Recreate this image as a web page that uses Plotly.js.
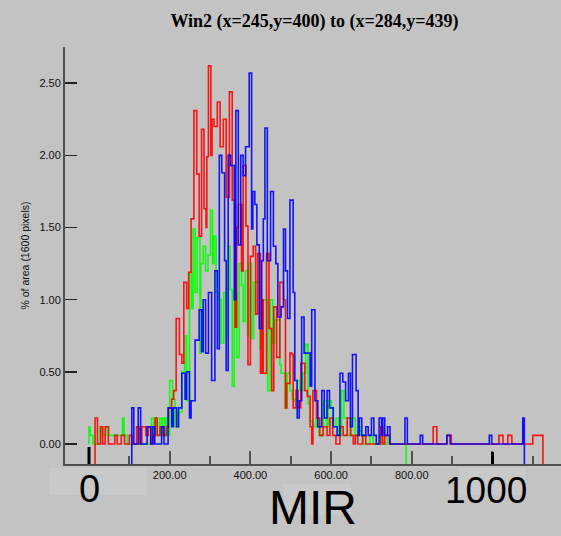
<!DOCTYPE html>
<html>
<head>
<meta charset="utf-8">
<script src="https://cdn.plot.ly/plotly-3.0.1.min.js"></script>
<style>html,body{margin:0;padding:0;background:#c3c3c3;}#chart{width:561px;height:536px;}</style>
</head>
<body>
<div id="chart"></div>
<script>
// ---- data (MIR value vs % of area, step histograms) ----
var BASE = -0.14; // histogram end lines run down to the axis
var greenX = [0,0,3,10,27,34,42,49,83,87,95,155,161,163,169,175,180,182,187,191,197,200,207,213,220,230,237,242,249,254,258,263,268,275,277,283,289,295,301,306,310,315,322,328,334,340,345,350,355,360,366,372,378,382,387,393,395,403,408,415,424,430,437,443,449,455,460,467,473,476,486,491,498,504,510,515,523,530,537,543,548,556,563,570,581,589,593,600,606,612,618,626,632,640,650,660,667,673,680,696,704,720,726,740,746,786];
var greenY = [0,0.12,0.06,0,0.12,0.06,0.12,0.06,0.18,0.06,0,0.18,0.06,0.18,0.06,0.18,0.06,0.18,0.06,0.18,0.06,0.44,0.31,0.12,0.22,0.5,0.75,0.3,1.19,0.94,1.49,1.05,1.43,0.63,1.25,1.37,1.2,1.31,1.62,1.25,1.44,1.05,1.0,0.7,1.05,0.75,1.37,1.07,0.4,1.05,0.6,1.25,1.1,0.85,1.2,0.75,1.25,0.73,1.12,1.12,0.66,1.0,1.0,0.37,1.0,0.7,0.86,0.86,0.55,0.49,0.25,0.49,0.37,0.31,0.3,0.44,0.37,0.49,0.69,0.28,0.16,0.12,0.18,0.06,0.3,0.12,0.3,0.25,0.12,0.18,0.06,0.37,0.18,0.06,0.18,0.06,0.12,0.06,0,0.06,0,0.06,0,0.06,0,BASE];

var redX = [15,15,21,29,34,40,48,64,70,80,88,100,106,118,126,131,141,147,153,160,164,169,176,184,192,197,205,210,216,224,230,235,242,247,253,260,267,273,279,285,290,292,296,302,305,310,318,325,333,340,348,355,362,366,370,378,382,389,394,400,407,413,418,425,428,432,440,446,453,458,465,473,482,487,490,498,503,506,513,518,525,535,541,548,552,555,564,572,580,590,597,604,612,622,630,640,648,655,660,666,678,686,723,728,733,745,853,862,887,898,1016,1026,1038,1048,1100,1125];
var redY = [BASE,0.18,0,0.12,0,0.12,0,0.06,0,0.06,0,0.06,0,0.12,0,0.12,0.06,0.12,0,0.06,0.18,0.06,0.12,0.06,0.12,0.25,0.31,0.37,0.87,0.62,0.56,1.12,0.94,1.19,1.56,2.31,1.87,1.44,2.18,1.63,1.5,1.99,2.62,2.0,2.25,2.2,2.37,2.06,2.25,1.71,2.44,1.69,0.81,1.5,1.66,1.2,1.93,1.51,0.55,1.3,1.37,0.9,1.32,0.49,1.0,0.49,1.32,0.8,0.37,0.95,0.6,1.12,1.0,0.25,0.42,0.63,0.62,0.25,0.37,0.25,0.56,0.37,0.33,0.12,0,0.37,0.18,0.06,0.12,0.06,0.18,0.06,0,0.12,0.06,0.18,0.06,0,0.06,0,0.06,0,0.12,0,0.06,0,0.12,0,0.06,0,0.06,0,0.06,0,0.06,BASE];

var blueX = [106,106,111,122,128,144,153,158,163,180,186,196,205,209,217,222,230,238,242,249,253,263,273,279,283,289,296,304,312,318,323,329,336,340,345,351,360,364,370,376,382,388,397,403,406,411,416,422,428,432,436,442,450,457,463,468,476,482,487,492,498,506,510,516,521,527,533,541,548,552,560,567,577,583,590,596,605,615,622,629,636,643,648,653,662,667,670,676,686,692,700,706,712,719,725,728,733,740,746,783,789,821,827,887,895,992,998,1075,1079];
var blueY = [BASE,0.25,0,0.25,0,0.12,0,0.12,0,0.12,0,0.25,0.12,0.25,0.12,0.25,0.49,0.31,0.5,0.18,0.3,0.72,0.93,0.64,1.0,0.63,1.05,0.44,1.2,0.66,2.0,1.88,1.27,0.51,2.0,1.93,1.0,2.31,1.38,2.0,1.86,2.06,2.57,1.49,1.75,1.66,1.38,0.8,1.27,1.56,2.19,1.27,1.75,1.37,1.25,0.88,0.95,1.49,1.2,0.87,1.69,1.05,0.44,0.18,0.3,0.88,0.63,0.63,0.4,0.93,0.3,0.12,0.37,0.18,0.37,0.25,0.12,0.06,0.49,0.43,0.3,0.49,0.12,0.62,0.37,0.06,0.18,0.06,0.12,0.06,0.18,0.06,0,0.18,0.06,0.18,0.06,0.12,0,0.18,0,0.06,0,0.06,0,0.06,0,0.18,BASE];

var xTickVals = [0,200,400,600,800,1000];
var xTickText = ['','200.00','400.00','600.00','800.00',''];
var xMinorVals = [100,300,500,700,900,1100];
var yTickVals = [0,0.5,1,1.5,2,2.5];

var titleText = 'Win2 (x=245,y=400) to (x=284,y=439)';
var yTitle = '% of area (1600 pixels)';

// ---- chart ----
function stepTrace(x, y, color){
  return {x:x, y:y, type:'scatter', mode:'lines', line:{shape:'hv', color:color, width:1.6}, opacity:0.9, hoverinfo:'skip', showlegend:false};
}
var traces = [
  stepTrace(greenX, greenY, '#00ff00'),
  stepTrace(redX, redY, '#ff0000'),
  stepTrace(blueX, blueY, '#0000ff')
];

var XR = [-59.5, 1169.8];
var YR = [-0.1386, 2.751];
var AX = '#505050';
var tickFont = {family:'Liberation Sans, Arial, sans-serif', size:11, color:'#111'};

var layout = {
  width:561, height:536,
  paper_bgcolor:'#c3c3c3', plot_bgcolor:'#c3c3c3',
  margin:{l:65, r:0, t:47, b:72, pad:0},
  showlegend:false,
  title:{text:titleText, font:{family:'Liberation Serif, Times New Roman, serif', size:18, color:'#000', weight:'bold'},
         xref:'container', x:0.5606, xanchor:'center', yref:'container', y:0.961, yanchor:'middle'},
  xaxis:{range:XR, showgrid:false, zeroline:false, showline:true, linecolor:AX, linewidth:2,
         ticks:'inside', ticklen:13, tickwidth:2, tickcolor:AX,
         tickmode:'array', tickvals:xTickVals, ticktext:xTickText, tickfont:tickFont,
         minor:{tickmode:'array', tickvals:xMinorVals, ticks:'inside', ticklen:8, tickwidth:2, tickcolor:AX}},
  xaxis2:{range:XR, overlaying:'x', side:'top', showgrid:false, zeroline:false, showline:true, linecolor:AX, linewidth:2,
         ticks:'inside', ticklen:12, tickwidth:2, tickcolor:AX, showticklabels:false,
         tickmode:'array', tickvals:xTickVals,
         minor:{tickmode:'array', tickvals:xMinorVals, ticks:'inside', ticklen:7, tickwidth:2, tickcolor:AX}},
  yaxis:{range:YR, showgrid:false, zeroline:false, showline:true, linecolor:AX, linewidth:2,
         ticks:'inside', ticklen:12, tickwidth:1.5, tickcolor:'#222',
         tickmode:'array', tickvals:yTickVals, tickformat:'.2f', tickfont:tickFont,
         title:{text:yTitle, font:{family:'Liberation Sans, Arial, sans-serif', size:10.5, color:'#111'}, standoff:8}},
  yaxis2:{range:YR, overlaying:'y', side:'right', showgrid:false, zeroline:false, showline:false,
         ticks:'inside', ticklen:12, tickwidth:1.5, tickcolor:'#222', showticklabels:false,
         tickmode:'array', tickvals:yTickVals},
  shapes:[
    {type:'rect', xref:'paper', yref:'paper', x0:-0.0323, x1:0.1653, y0:-0.0096, y1:-0.0743, fillcolor:'#c9c9c9', line:{width:0}, layer:'below'},
    {type:'rect', xref:'paper', yref:'paper', x0:0.794, x1:0.929, y0:-0.0096, y1:-0.0743, fillcolor:'#c9c9c9', line:{width:0}, layer:'below'},
    {type:'rect', xref:'paper', yref:'paper', x0:0.4395, x1:0.5766, y0:-0.048, y1:-0.1223, fillcolor:'#c9c9c9', line:{width:0}, layer:'below'},
    {type:'line', xref:'x', yref:'paper', x0:0, x1:0, y0:0, y1:0.0408, line:{color:'#000', width:3}},
    {type:'line', xref:'x', yref:'paper', x0:1000, x1:1000, y0:0, y1:0.0288, line:{color:'#000', width:3}}
  ],
  annotations:[
    {text:'0', xref:'x', x:0, yref:'paper', y:-0.06, yanchor:'middle', xanchor:'center', showarrow:false,
     font:{family:'Liberation Sans, Arial, sans-serif', size:38, color:'#000'}},
    {text:'1000', xref:'x', x:1000, xshift:-6, yref:'paper', y:-0.0647, yanchor:'middle', xanchor:'center', showarrow:false,
     font:{family:'Liberation Sans, Arial, sans-serif', size:37, color:'#000'}},
    {text:'MIR', xref:'paper', x:0.5, yref:'paper', y:-0.105, yanchor:'middle', xanchor:'center', showarrow:false,
     font:{family:'Liberation Sans, Arial, sans-serif', size:48, color:'#000'}}
  ]
};

Plotly.newPlot('chart', traces, layout, {displayModeBar:false, staticPlot:true});
</script>
</body>
</html>
